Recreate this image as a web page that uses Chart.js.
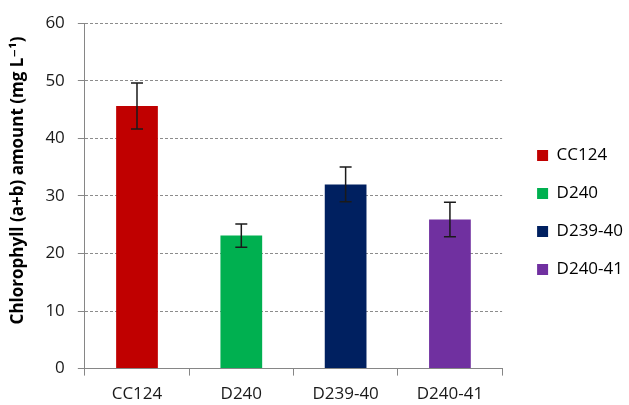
<!DOCTYPE html>
<html lang="en">
<head>
    <meta charset="UTF-8">
    <title>Chlorophyll (a+b) amount</title>
    <script src="https://cdn.jsdelivr.net/npm/chart.js@4.4.1/dist/chart.umd.min.js"></script>
    <style>
        html, body {
            margin: 0;
            padding: 0;
            background: #fff;
        }
        #wrap {
            width: 629px;
            height: 405px;
        }
    </style>
</head>
<body>

<div id="wrap">
    <canvas id="chl"></canvas>
</div>

<script>
    const categories = ['CC124', 'D240', 'D239-40', 'D240-41'];
    const chlValues = [45.6, 23.1, 32.0, 25.9];
    const chlErrors = [4.0, 2.0, 3.0, 3.0];
    const barColors = ['#C00000', '#00B050', '#002060', '#7030A0'];
    const yTicks = [0, 10, 20, 30, 40, 50, 60];

    const fontFamily = '"Open Sans", "DejaVu Sans", sans-serif';

    // simple error bar drawing on top of the bars
    const errorBars = {
        id: 'errorBars',
        afterDatasetsDraw(chart) {
            const ctx = chart.ctx;
            const y = chart.scales.y;
            const meta = chart.getDatasetMeta(0);
            ctx.save();
            ctx.strokeStyle = '#1a1a1a';
            ctx.lineWidth = 1.5;
            meta.data.forEach((bar, i) => {
                const top = y.getPixelForValue(chlValues[i] + chlErrors[i]);
                const bot = y.getPixelForValue(chlValues[i] - chlErrors[i]);
                const cap = 6;
                ctx.beginPath();
                ctx.moveTo(bar.x, top);
                ctx.lineTo(bar.x, bot);
                ctx.moveTo(bar.x - cap, top);
                ctx.lineTo(bar.x + cap, top);
                ctx.moveTo(bar.x - cap, bot);
                ctx.lineTo(bar.x + cap, bot);
                ctx.stroke();
            });
            ctx.restore();
        }
    };

    // push the legend a bit further away from the plot, like the original
    const legendGap = {
        id: 'legendGap',
        afterLayout(chart) {
            if (chart.legend) {
                chart.legend.left += 14;
                chart.legend.right += 14;
            }
        }
    };

    const config = {
        type: 'bar',
        data: {
            labels: categories,
            datasets: [{
                label: 'Chlorophyll',
                data: chlValues,
                backgroundColor: barColors,
                borderWidth: 0,
                barPercentage: 0.4,
                categoryPercentage: 1.0
            }]
        },
        options: {
            responsive: true,
            maintainAspectRatio: false,
            animation: false,
            devicePixelRatio: 1,
            layout: {
                padding: { top: 13, right: 10, bottom: -7, left: 8 }
            },
            plugins: {
                tooltip: { enabled: false },
                legend: {
                    position: 'right',
                    align: 'center',
                    labels: {
                        boxWidth: 11,
                        boxHeight: 11,
                        padding: 21,
                        color: '#1a1a1a',
                        font: { family: fontFamily, size: 17 },
                        generateLabels: function(chart) {
                            return categories.map((c, i) => ({
                                text: c,
                                fillStyle: barColors[i],
                                strokeStyle: barColors[i],
                                lineWidth: 0,
                                hidden: false,
                                index: i
                            }));
                        }
                    }
                }
            },
            scales: {
                x: {
                    grid: {
                        offset: true,
                        drawOnChartArea: false,
                        drawTicks: true,
                        tickLength: 7,
                        tickColor: '#868686'
                    },
                    border: { display: true, color: '#868686', width: 1 },
                    ticks: {
                        color: '#1a1a1a',
                        padding: 8,
                        font: { family: fontFamily, size: 17 }
                    }
                },
                y: {
                    min: 0,
                    max: 60,
                    afterBuildTicks: function(axis) {
                        axis.ticks = yTicks.map(v => ({ value: v }));
                    },
                    grid: {
                        color: '#8c8c8c',
                        lineWidth: 1,
                        tickLength: 7,
                        tickColor: '#868686',
                        tickBorderDash: []
                    },
                    border: { display: true, color: '#868686', width: 1, dash: [3, 2] },
                    ticks: {
                        color: '#1a1a1a',
                        padding: 13,
                        font: { family: fontFamily, size: 17 }
                    },
                    title: {
                        display: true,
                        text: '       Chlorophyll (a+b) amount (mg L\u207B\u00B9)',
                        color: '#000',
                        padding: { top: 0, bottom: 4 },
                        font: { family: fontFamily, size: 17, weight: 'bold' }
                    }
                }
            }
        },
        plugins: [errorBars, legendGap]
    };

    const chart = new Chart(document.getElementById('chl'), config);
</script>

</body>
</html>
